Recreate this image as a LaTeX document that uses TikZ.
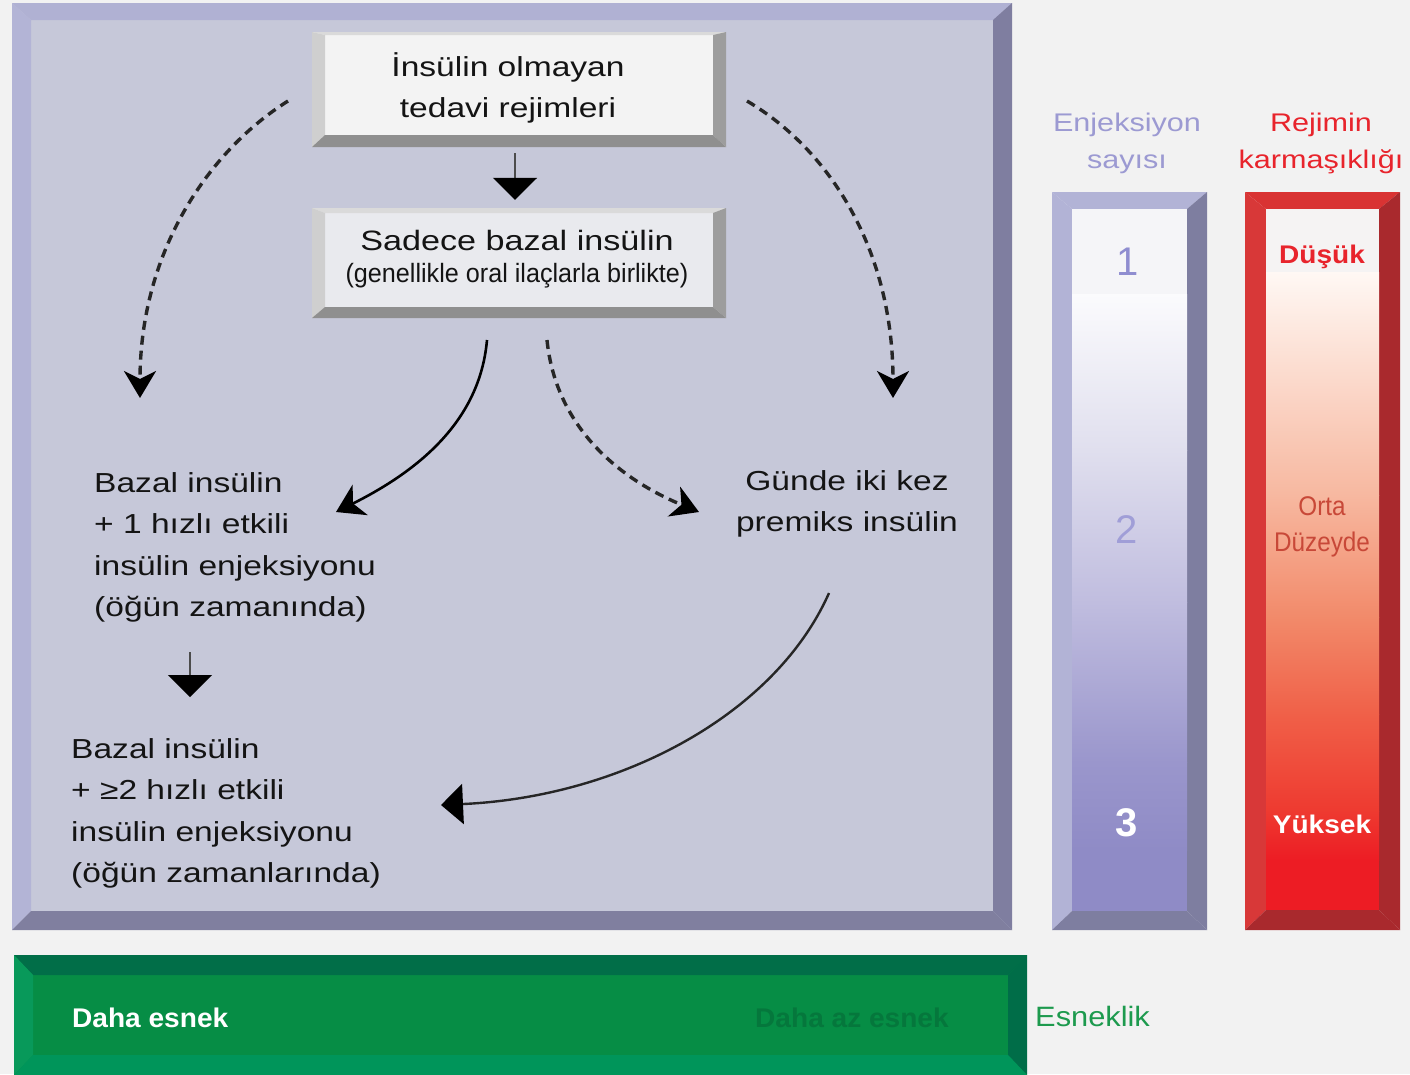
\documentclass[tikz,border=0pt]{standalone}
\usepackage{fontspec}
\setmainfont{Liberation Sans}
\newfontfamily\fMain{Liberation Sans}[FakeStretch=1.22]
\newfontfamily\fSub{Liberation Sans}[FakeStretch=0.95]
\newfontfamily\fLab{Liberation Sans}[FakeStretch=1.2]
\newfontfamily\fNum{Liberation Sans}
\newfontfamily\fOrta{Liberation Sans}[FakeStretch=0.9]
\newfontfamily\fBar{Liberation Sans}[FakeStretch=1.1]
\newfontfamily\fGrn{Liberation Sans}[FakeStretch=1.04]
\usetikzlibrary{arrows.meta}

\definecolor{bgc}{HTML}{F2F2F2}
\definecolor{panelF}{HTML}{C6C8D9}
\definecolor{panelT}{HTML}{B0B1D3}
\definecolor{panelL}{HTML}{B3B4D6}
\definecolor{panelR}{HTML}{7F7EA0}
\definecolor{panelB}{HTML}{807F9F}
\definecolor{boxAF}{HTML}{F3F3F3}
\definecolor{boxAT}{HTML}{DADADA}
\definecolor{boxAL}{HTML}{CFCFCF}
\definecolor{boxAR}{HTML}{9D9D9D}
\definecolor{boxAB}{HTML}{8F8F8F}
\definecolor{boxBF}{HTML}{E9EAEE}
\definecolor{boxBT}{HTML}{DADADA}
\definecolor{boxBL}{HTML}{CFCFCF}
\definecolor{boxBR}{HTML}{9D9D9D}
\definecolor{boxBB}{HTML}{8F8F8F}
\definecolor{barPF}{HTML}{F5F5F8}
\definecolor{barPT}{HTML}{B2B3D6}
\definecolor{barPL}{HTML}{B2B3D6}
\definecolor{barPR}{HTML}{7E7EA0}
\definecolor{barPB}{HTML}{7E7EA0}
\definecolor{barRF}{HTML}{F5F3F3}
\definecolor{barRT}{HTML}{D93333}
\definecolor{barRL}{HTML}{D83838}
\definecolor{barRR}{HTML}{A9292D}
\definecolor{barRB}{HTML}{A9292D}
\definecolor{grnF}{HTML}{068D45}
\definecolor{grnT}{HTML}{016E48}
\definecolor{grnL}{HTML}{08995A}
\definecolor{grnR}{HTML}{006D48}
\definecolor{grnB}{HTML}{00955A}
% gradient stops
\definecolor{p0}{HTML}{FBFBFD}
\definecolor{p1}{HTML}{E0DFEE}
\definecolor{p2}{HTML}{C0BDDF}
\definecolor{p3}{HTML}{9A96CC}
\definecolor{p4}{HTML}{8F8BC6}
\definecolor{r0}{HTML}{FFF8F4}
\definecolor{r1}{HTML}{F7B8A0}
\definecolor{r2}{HTML}{F28A6A}
\definecolor{r3}{HTML}{F06048}
\definecolor{r4}{HTML}{EE3A30}
\definecolor{r5}{HTML}{ED1C24}
% text colours
\definecolor{enjC}{HTML}{9C9AD2}
\definecolor{numC}{HTML}{8F8DD0}
\definecolor{rejC}{HTML}{E8242C}
\definecolor{ortaC}{HTML}{C84838}
\definecolor{esnC}{HTML}{1D9A4E}
\definecolor{azC}{HTML}{05773C}

% bevelled rectangle: (x1,y1,x2,y2)[top,left,right,bottom]{colour prefix}
\def\bevel(#1,#2,#3,#4)[#5,#6,#7,#8]#9{%
  \fill[#9F] (#1,#2) rectangle (#3,#4);
  \fill[#9T] (#1,#2) -- (#3,#2) -- ({#3-#7},{#2+#5}) -- ({#1+#6},{#2+#5}) -- cycle;
  \fill[#9L] (#1,#2) -- ({#1+#6},{#2+#5}) -- ({#1+#6},{#4-#8}) -- (#1,#4) -- cycle;
  \fill[#9R] (#3,#2) -- (#3,#4) -- ({#3-#7},{#4-#8}) -- ({#3-#7},{#2+#5}) -- cycle;
  \fill[#9B] (#1,#4) -- ({#1+#6},{#4-#8}) -- ({#3-#7},{#4-#8}) -- (#3,#4) -- cycle;
}
\newcommand\Lft[1]{\begin{tabular}[t]{@{}l@{}}#1\end{tabular}}
\newcommand\Ctr[1]{\begin{tabular}[t]{@{}c@{}}#1\end{tabular}}

\begin{document}
\begin{tikzpicture}[x=1pt,y=-1pt,
  facebox/.style={inner sep=0pt,minimum width=388pt},
  maintxt/.style={inner sep=0pt,text=black!92,font={\fMain\fontsize{27.5}{41.5}\selectfont}},
  labtxt/.style={inner sep=0pt,anchor=base,font={\fLab\fontsize{25.5}{37}\selectfont}},
  numtxt/.style={inner sep=0pt,anchor=base,font={\fNum\fontsize{40}{48}\selectfont}},
  bartxt/.style={inner sep=0pt,anchor=base,font={\fBar\bfseries\fontsize{25.5}{30}\selectfont}},
  grntxt/.style={inner sep=0pt,anchor=base west,font={\fGrn\bfseries\fontsize{27}{32}\selectfont}},
  dasharrow/.style={draw=black!85,line width=3.4pt,dash pattern=on 9pt off 6pt,
     -{Stealth[length=27pt,width=32pt,inset=8pt,color=black]}},
  curvearrow/.style={draw=black,line width=2.6pt,
     -{Stealth[length=27pt,width=34pt,inset=8pt]}},
  downarrow/.style={draw=black!70,line width=2pt,
     -{Triangle[length=22pt,width=44pt,color=black]}},
  leftarrow/.style={draw=black!85,line width=2.4pt,
     -{Triangle[length=22pt,width=40pt,color=black]}}
]
\useasboundingbox (0,0) rectangle (1410,1074);
\fill[bgc] (0,0) rectangle (1410,1074);

\begin{scope}
\clip (0,0) rectangle (1410,1074);
\bevel(12,3,1012,930)[17,19,19,19]{panel}
\bevel(312,32,726,147)[3,13,13,12]{boxA}
\bevel(312,208,726,318)[5,13,13,11]{boxB}
\bevel(1052,192,1207,930)[17,20,20,19]{barP}
\bevel(1245,192,1400,930)[17,21,21,20]{barR}
\bevel(14,955,1027,1075)[20,19,19,20]{grn}
\end{scope}

% purple bar face gradient
\fill[barPF] (1072,209) rectangle (1187,294);
\shade[top color=p0,bottom color=p1] (1072,294) rectangle (1187,450.5);
\shade[top color=p1,bottom color=p2] (1072,450) rectangle (1187,602.5);
\shade[top color=p2,bottom color=p3] (1072,602) rectangle (1187,762.5);
\shade[top color=p3,bottom color=p4] (1072,762) rectangle (1187,850.5);
\fill[p4] (1072,850) rectangle (1187,911);

% red bar face gradient
\fill[barRF] (1266,209) rectangle (1379,272);
\shade[top color=r0,bottom color=r1] (1266,272) rectangle (1379,495.5);
\shade[top color=r1,bottom color=r2] (1266,495) rectangle (1379,617.5);
\shade[top color=r2,bottom color=r3] (1266,617) rectangle (1379,714.5);
\shade[top color=r3,bottom color=r4] (1266,714) rectangle (1379,811.5);
\shade[top color=r4,bottom color=r5] (1266,811) rectangle (1379,860.5);
\fill[r5] (1266,860) rectangle (1379,910);

% boxes (faces) and their texts
\node[facebox,minimum height=100pt] (b1) at (519,85) {};
\node[facebox,minimum height=94pt] (b2) at (519,260) {};
\node[maintxt,anchor=base] (b1t) at (508,76) {\Ctr{İnsülin olmayan\\tedavi rejimleri}};
\node[maintxt,anchor=base,font={\fMain\fontsize{28}{32}\selectfont}] (b2t) at (517,250)
  {\Ctr{Sadece bazal insülin\\{\fSub\fontsize{26.5}{32}\selectfont (genellikle oral ilaçlarla birlikte)}}};

% regimen texts
\node[maintxt,anchor=base west] (t1) at (94,492)
  {\Lft{Bazal insülin\\+ 1 hızlı etkili\\insülin enjeksiyonu\\(öğün zamanında)}};
\node[maintxt,anchor=base west] (t2) at (71,758)
  {\Lft{Bazal insülin\\+ ≥2 hızlı etkili\\insülin enjeksiyonu\\(öğün zamanlarında)}};
\node[maintxt,anchor=base] (t3) at (847,490)
  {\Ctr{Günde iki kez\\premiks insülin}};

% connector end points
\coordinate (sL) at (288,101);
\coordinate (eL) at (140,398);
\coordinate (sR) at (747,101);
\coordinate (eR) at (893,398);
\coordinate (sM1) at (487,340);
\coordinate (eM1) at (336,512);
\coordinate (sM2) at (547,340);
\coordinate (eM2) at (699,512);
\coordinate (sB) at (829,593);
\coordinate (eB) at (441,805);
\coordinate (dA) at (190,652);
\coordinate (dB) at (190,697);

% connectors
\draw[downarrow,shorten <=18pt,shorten >=13pt] ([xshift=-4pt]b1.south) -- ([xshift=-4pt]b2.north);
\draw[dasharrow] (sL) .. controls (210,150) and (140,250) .. (eL);
\draw[dasharrow] (sR) .. controls (830,150) and (893,250) .. (eR);
\draw[curvearrow] (sM1) .. controls (480,420) and (420,470) .. (eM1);
\draw[dasharrow] (sM2) .. controls (555,420) and (610,475) .. (eM2);
\draw[leftarrow] (sB) .. controls (775,715) and (620,797) .. (eB);
\draw[downarrow] (dA) -- (dB);

% right column labels
\node[labtxt,text=enjC] (lab1) at (1127,131) {\Ctr{Enjeksiyon\\sayısı}};
\node[labtxt,text=rejC] (lab2) at (1321,131) {\Ctr{Rejimin\\karmaşıklığı}};
\node[numtxt,text=numC] (n1) at (1128,275) {1};
\node[numtxt,text=numC!85] (n2) at (1127,543) {2};
\node[numtxt,text=white,font={\fNum\bfseries\fontsize{40}{48}\selectfont}] (n3) at (1127,836) {3};
\node[bartxt,text=rejC] (lv1) at (1322,263) {Düşük};
\node[inner sep=0pt,anchor=base,text=ortaC,font={\fOrta\fontsize{27}{36}\selectfont}] (lv2) at (1322,515) {\Ctr{Orta\\Düzeyde}};
\node[bartxt,text=white] (lv3) at (1322,833) {Yüksek};

% flexibility bar
\node[grntxt,text=white] (g1) at (72,1027) {Daha esnek};
\node[grntxt,text=azC] (g2) at (755,1027) {Daha az esnek};
\node[inner sep=0pt,anchor=base west,text=esnC,font={\fBar\fontsize{28}{32}\selectfont}] (g3) at (1035,1026) {Esneklik};
\end{tikzpicture}
\end{document}
